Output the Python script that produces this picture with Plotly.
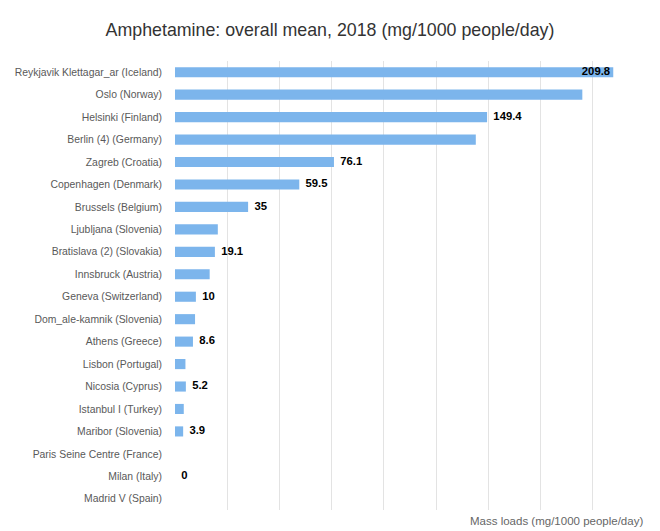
import plotly.graph_objects as go

cities = [
    "Reykjavik Klettagar_ar (Iceland)", "Oslo (Norway)", "Helsinki (Finland)",
    "Berlin (4) (Germany)", "Zagreb (Croatia)", "Copenhagen (Denmark)",
    "Brussels (Belgium)", "Ljubljana (Slovenia)", "Bratislava (2) (Slovakia)",
    "Innsbruck (Austria)", "Geneva (Switzerland)", "Dom_ale-kamnik (Slovenia)",
    "Athens (Greece)", "Lisbon (Portugal)", "Nicosia (Cyprus)",
    "Istanbul I (Turkey)", "Maribor (Slovenia)", "Paris Seine Centre (France)",
    "Milan (Italy)", "Madrid V (Spain)",
]
values = [209.8, 195.0, 149.4, 144.0, 76.1, 59.5, 35, 20.5, 19.1, 16.6,
          10, 9.6, 8.6, 5.0, 5.2, 4.2, 3.9, None, 0, None]
shown_labels = ["209.8", "", "149.4", "", "76.1", "59.5", "35", "", "19.1", "",
                "10", "", "8.6", "", "5.2", "", "3.9", "", "0", ""]
label_inside = [True] + [False] * 19

label_font = dict(family="Liberation Sans, Arial", size=11.3, color="#000000", weight="bold")

lab_x, lab_y, lab_t, lab_pos = [], [], [], []
for city, v, lab, ins in zip(cities, values, shown_labels, label_inside):
    if lab == "":
        continue
    lab_x.append(v)
    lab_y.append(city)
    if ins:
        lab_t.append(lab + "\u00a0")
        lab_pos.append("middle left")
    else:
        lab_t.append("\u00a0\u00a0" + lab)
        lab_pos.append("middle right")

fig = go.Figure()
fig.add_trace(go.Bar(
    x=values, y=cities, orientation="h",
    marker=dict(color="#7cb5ec", line=dict(width=0)),
    hoverinfo="x+y",
))
fig.add_trace(go.Scatter(
    x=lab_x, y=lab_y, mode="text", text=lab_t,
    textposition=lab_pos, textfont=label_font,
    hoverinfo="skip", cliponaxis=False,
))

fig.update_layout(
    width=660, height=531,
    margin=dict(l=175, r=15, t=61, b=21),
    paper_bgcolor="white", plot_bgcolor="white",
    bargap=0.55,
    showlegend=False,
    title=dict(text="Amphetamine: overall mean, 2018 (mg/1000 people/day)",
               x=0.5, xanchor="center", y=0.944, yanchor="middle",
               font=dict(family="Liberation Sans, Arial", size=17.8, color="#333333")),
    xaxis=dict(range=[0, 225], dtick=25, tick0=0, showticklabels=False,
               showgrid=True, gridcolor="#e3e3e3", gridwidth=1,
               zeroline=False, showline=False, ticks="", fixedrange=True),
    yaxis=dict(range=[len(cities) - 0.5, -0.5], showgrid=False, zeroline=False,
               showline=False, ticks="", ticklabelstandoff=12, fixedrange=True,
               tickfont=dict(family="Liberation Sans, Arial", size=10.4, color="#595959")),
    annotations=[dict(text="Mass loads (mg/1000 people/day)", xref="paper", yref="paper",
                      x=1.0, y=0, xanchor="right", yanchor="top", yshift=-3,
                      showarrow=False,
                      font=dict(family="Liberation Sans, Arial", size=11.5, color="#666666"))],
)

fig.write_html("out.html", config={"displayModeBar": False},
               post_script="document.body.style.margin='0';")
